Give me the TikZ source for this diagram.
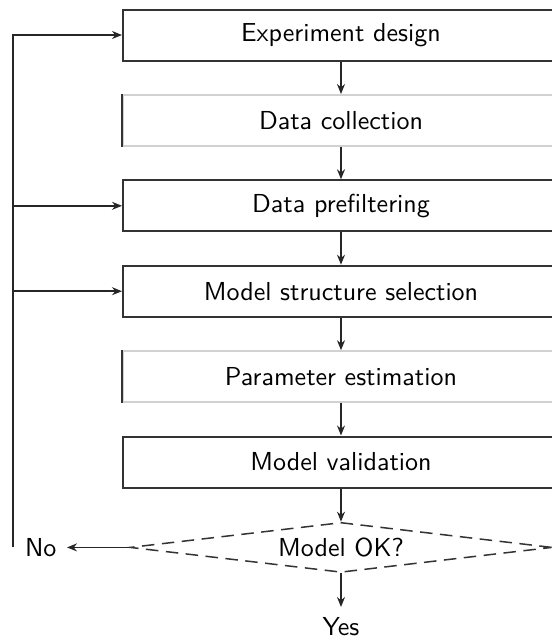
\documentclass[tikz,border=0pt]{standalone}
\usetikzlibrary{shapes.geometric,arrows.meta}
\begin{document}
\begin{tikzpicture}[x=0.4pt,y=-0.4pt,
  font=\sffamily\fontsize{10.4}{12}\selectfont,
  every node/.style={inner sep=0pt},
  procbox/.style={draw=black!80, line width=0.8pt, rectangle,
    minimum width=174.4pt, minimum height=20.4pt},
  softbox/.style={draw=black!18, line width=0.7pt, rectangle,
    minimum width=174.4pt, minimum height=20.4pt},
  decision/.style={diamond, draw=black!80, line width=0.6pt,
    dash pattern=on 5pt off 3pt, aspect=8.4,
    minimum width=168.8pt, minimum height=20pt},
  flow/.style={draw=black!85, line width=0.6pt,
    -{Stealth[length=4pt,width=3.2pt]}}
]
\useasboundingbox (0,0) rectangle (552,643);

% process steps
\node[procbox] (design) at (341,35)    {Experiment design};
\node[softbox] (collect) at (341,120.4) {Data collection};
\node[procbox] (prefilt) at (341,205.8) {Data prefiltering};
\node[procbox] (struct) at (341,291.2)  {Model structure selection};
\node[softbox] (estim) at (341,376.6)   {Parameter estimation};
\node[procbox] (valid) at (341,462)     {Model validation};
\node[decision] (ok) at (341,547.4)     {Model OK?};

% outcome labels
\node[anchor=east, inner sep=4pt] (no) at (67,547.4) {No};
\node[anchor=north, inner sep=4pt] (yes) at (341,607) {Yes};

% left edges of the lighter boxes
\draw[black!80, line width=0.8pt] (collect.north west) -- (collect.south west);
\draw[black!80, line width=0.8pt] (estim.north west) -- (estim.south west);

% main sequence
\draw[flow] (design) -- (collect);
\draw[flow] (collect) -- (prefilt);
\draw[flow] (prefilt) -- (struct);
\draw[flow] (struct) -- (estim);
\draw[flow] (estim) -- (valid);
\draw[flow] (valid) -- (ok);
\draw[flow] (ok.south) -- (yes.north);
\draw[flow] (ok.west) -- (no.east);

% feedback loop
\coordinate (loop) at (13,547.4);
\draw[flow] (loop) |- (design.west);
\draw[flow] (loop |- prefilt.west) -- (prefilt.west);
\draw[flow] (loop |- struct.west) -- (struct.west);
\end{tikzpicture}
\end{document}
